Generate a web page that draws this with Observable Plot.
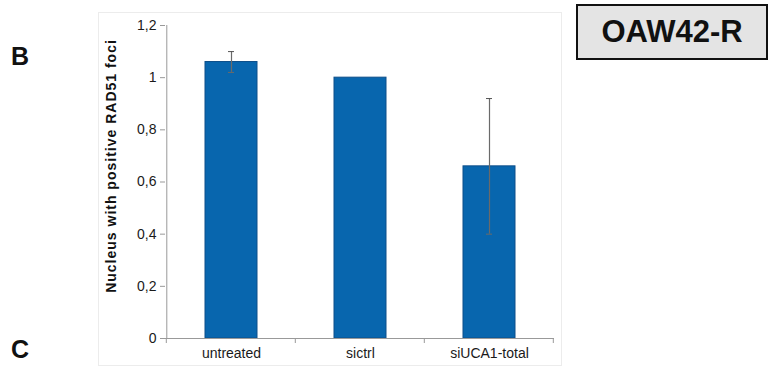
<!DOCTYPE html>
<html>
<head>
<meta charset="utf-8">
<script src="https://cdn.jsdelivr.net/npm/d3@7"></script>
<script src="https://cdn.jsdelivr.net/npm/@observablehq/plot@0.6"></script>
<style>
  html, body { margin: 0; padding: 0; background: #fff; }
  #wrap { position: relative; width: 778px; height: 374px; font-family: "Liberation Sans", Arial, sans-serif; }
  #frame { position: absolute; left: 98px; top: 12px; width: 464px; height: 354px; border: 1px solid #ececec; box-sizing: border-box; }
  .letter { position: absolute; font-weight: bold; font-size: 25px; color: #111; }
  #box { position: absolute; left: 576px; top: 4px; width: 192px; height: 56px; box-sizing: border-box;
         border: 2px solid #111; background: #e4e4e4; font-weight: bold; font-size: 31px;
         display: flex; align-items: center; justify-content: center; color: #111; }
  #chart { position: absolute; left: 0; top: 0; }
</style>
</head>
<body>
<div id="wrap">
  <div id="frame"></div>
  <div id="chart"></div>
  <div class="letter" style="left:11px; top:42px;">B</div>
  <div class="letter" style="left:11px; top:335px;">C</div>
  <div id="box">OAW42-R</div>
</div>
<script>
const categories = ["untreated", "sictrl", "siUCA1-total"];
const values = [1.06, 1.0, 0.66];
const errors = [0.04, 0, 0.26];
const yTicks = [0, 0.2, 0.4, 0.6, 0.8, 1.0, 1.2];
const yLabel = "Nucleus with positive RAD51 foci";

const data = categories.map((c, i) => ({cat: c, v: values[i], e: errors[i]}));
const errData = data.filter(d => d.e > 0);
const fmt = d => (+d.toFixed(1)).toString().replace(".", ",");

const plot = Plot.plot({
  width: 778,
  height: 374,
  marginLeft: 165,
  marginRight: 224,
  marginTop: 25,
  marginBottom: 36,
  style: {fontFamily: "Liberation Sans, Arial, sans-serif", fontSize: "14px", color: "#1a1a1a", background: "transparent"},
  x: {domain: categories, paddingInner: 0.6, paddingOuter: 0.3, label: null, tickSize: 0, tickPadding: 10},
  y: {domain: [0, 1.2], ticks: yTicks, tickFormat: fmt, tickSize: 5, tickPadding: 4, label: yLabel,
      labelAnchor: "center", labelArrow: "none", labelOffset: 59},
  marks: [
    Plot.barY(data, {x: "cat", y: "v", fill: "#0866ae", stroke: "#0d4f8a", strokeWidth: 1}),
    Plot.ruleX(errData, {x: "cat", y1: d => d.v - d.e, y2: d => d.v + d.e, stroke: "#6a6a6a", strokeWidth: 1.2}),
    Plot.tickY(errData, {x: "cat", y: d => d.v + d.e, stroke: "#555", insetLeft: 23, insetRight: 23}),
    Plot.tickY(errData, {x: "cat", y: d => d.v - d.e, stroke: "#6a6a6a", insetLeft: 23, insetRight: 23}),
    Plot.ruleY([0], {stroke: "#999"})
  ]
});
document.getElementById("chart").appendChild(plot);

// style axes
const svg = d3.select(plot);
svg.selectAll("[aria-label='y-axis tick']").attr("stroke", "#999");
svg.selectAll("[aria-label='y-axis label']").attr("transform", function() {
  return "translate(0,-16) " + (this.getAttribute("transform") || "");
});
svg.selectAll("[aria-label='y-axis label'] text").style("font-weight", "bold").style("font-size", "14px")
  .style("letter-spacing", "1px").attr("fill", "#111");

// y axis line and x band boundary ticks, from the library's scales
const xs = plot.scale("x"), ys = plot.scale("y");
const y0 = ys.apply(0), yTop = ys.apply(1.2);
const left = xs.apply(categories[0]) - xs.step * xs.paddingOuter;
const g = svg.append("g").attr("stroke", "#999").attr("stroke-width", 1);
g.append("line").attr("x1", left + 0.5).attr("x2", left + 0.5).attr("y1", yTop).attr("y2", y0);
for (let i = 0; i <= categories.length; i++) {
  const x = left + i * xs.step;
  g.append("line").attr("x1", x).attr("x2", x).attr("y1", y0).attr("y2", y0 + 5);
}
</script>
</body>
</html>
